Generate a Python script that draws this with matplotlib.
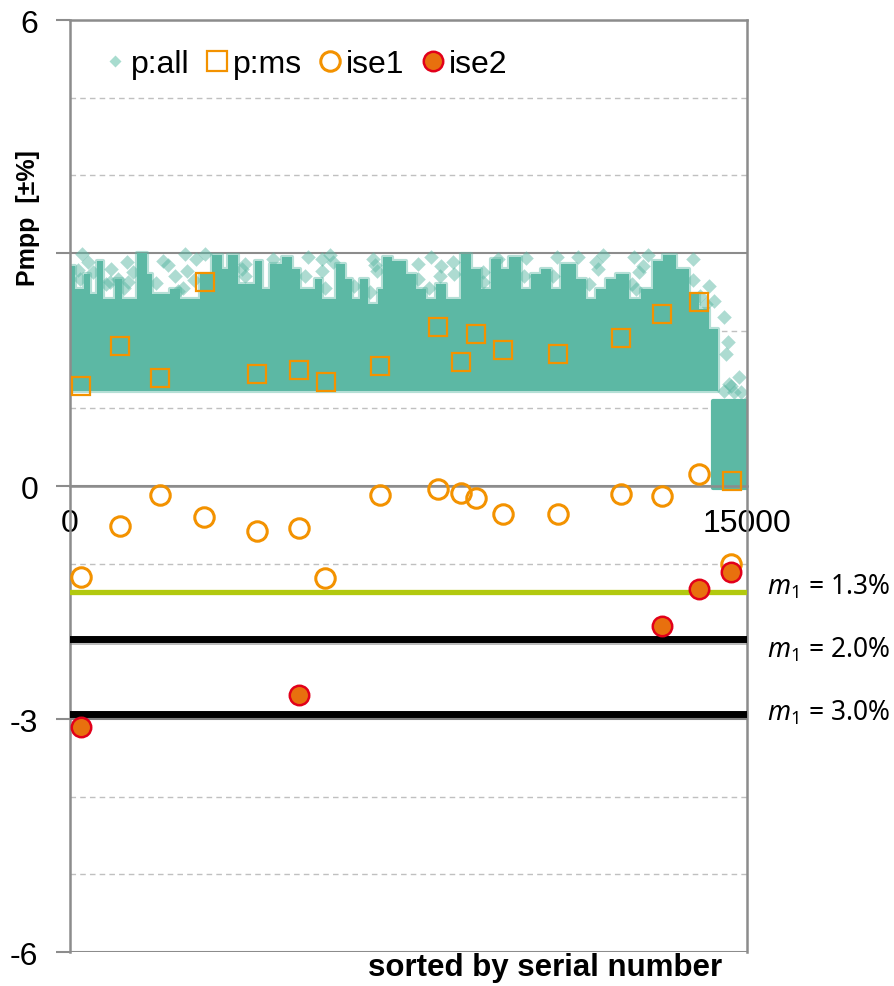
import matplotlib
matplotlib.use('Agg')
import matplotlib.pyplot as plt
import matplotlib.patheffects as pe
from matplotlib.lines import Line2D

plt.rcParams['font.family'] = ['Liberation Sans', 'DejaVu Sans']
plt.rcParams['mathtext.fontset'] = 'custom'
plt.rcParams['mathtext.rm'] = 'Noto Sans'
plt.rcParams['mathtext.it'] = 'Noto Sans:italic'

# p:all - dense core read as an envelope (start of segment, top value)
core_x = [0, 111, 311, 444, 599, 732, 999, 1154, 1487, 1709, 1820, 2219, 2441,
          2885, 3151, 3373, 3506, 3728, 4105, 4260, 4438, 4704, 4926, 5104, 5437,
          5592, 5903, 6102, 6258, 6435, 6613, 6835, 6945, 7145, 7434, 7656, 7877,
          8099, 8321, 8654, 8876, 9098, 9320, 9542, 9719, 9986, 10207, 10429,
          10651, 10873, 11206, 11428, 11650, 11872, 12094, 12382, 12648, 12915,
          13136, 13425, 13713, 13935, 14157]
core_top = [2.83, 2.54, 2.73, 2.47, 2.90, 2.41, 2.66, 2.41, 3.00, 2.73, 2.47, 2.54, 2.41,
            2.73, 2.97, 2.79, 2.97, 2.60, 2.90, 2.54, 2.86, 2.95, 2.79, 2.54, 2.66,
            2.41, 2.86, 2.66, 2.41, 2.66, 2.34, 2.54, 2.95, 2.90, 2.73, 2.54, 2.41,
            2.60, 2.41, 2.99, 2.79, 2.54, 2.92, 2.79, 2.95, 2.54, 2.73, 2.79,
            2.54, 2.86, 2.66, 2.41, 2.54, 2.66, 2.73, 2.41, 2.54, 2.90,
            2.97, 2.79, 2.47, 2.28, 2.02]
core_end = 14357
core_low = 1.22
# last batch (lower level)
tail_x = [14250, 15000]
tail_low = -0.02
tail_top = 1.10
# sparse p:all points above the dense core
sparse_x = [260, 1258, 1065, 888, 1287, 2175, 2330, 2396, 2552, 2596, 2996, 3883,
            3883, 4505, 4660, 510, 222, 5281, 5592, 5836, 5592, 6724, 6812, 7700,
            8210, 8477, 8499, 9142, 9475, 11250, 11650, 12493, 12693, 12537, 13802,
            14157, 14268, 14490, 14579, 14535, 14823, 14645, 14867, 14601, 14712,
            14490, 14990,
            180, 400, 800, 900, 1200, 1400, 1900, 2050, 2500, 2750, 2800, 3800,
            5200, 5650, 5750, 6300, 6650, 6750, 7700, 7950, 8000, 8200, 9150,
            10050, 10100, 10700, 10800, 11500, 11700, 11800, 12450, 12600, 12800,
            13800, 13950, 14100]
sparse_y = [2.99, 2.88, 2.66, 2.63, 2.63, 2.84, 2.70, 2.51, 2.99, 2.77, 2.99, 2.86,
            2.70, 2.92, 2.77, 2.76, 2.66, 2.95, 2.92, 2.88, 2.77, 2.92, 2.77, 2.86,
            2.83, 2.88, 2.73, 2.63, 2.92, 2.95, 2.88, 2.95, 2.83, 2.54, 2.92,
            2.57, 2.38, 2.18, 1.85, 1.70, 1.40, 1.29, 1.21, 1.31, 1.21,
            1.22, 1.08,
            2.78, 2.88, 2.60, 2.80, 2.55, 2.75, 2.62, 2.90, 2.55, 2.65, 2.92, 2.80,
            2.70, 2.55, 2.98, 2.58, 2.50, 2.85, 2.66, 2.55, 2.95, 2.70, 2.75,
            2.70, 2.93, 2.70, 2.95, 2.60, 2.80, 2.98, 2.60, 2.75, 2.98,
            2.65, 2.45, 2.35]

ms_x = [244, 1110, 1997, 2996, 4150, 5081, 5681, 6879, 8144, 8654, 8987, 9586,
        10807, 12205, 13114, 13936, 14668]
ms_y = [1.29, 1.80, 1.39, 2.63, 1.44, 1.49, 1.34, 1.55, 2.05, 1.60, 1.96, 1.75,
        1.70, 1.91, 2.21, 2.37, 0.06]

ise1_x = [244, 1110, 1997, 2974, 4150, 5081, 5658, 6879, 8144, 8654, 8987, 9586,
          10807, 12205, 13114, 13936, 14646]
ise1_y = [-1.17, -0.52, -0.12, -0.40, -0.58, -0.54, -1.18, -0.12, -0.04, -0.09,
          -0.15, -0.36, -0.36, -0.10, -0.13, 0.15, -1.00]

ise2_x = [244, 5081, 13114, 13936, 14646]
ise2_y = [-3.10, -2.69, -1.80, -1.33, -1.11]

limit_y = [-1.37, -1.97, -2.94]
limit_labels = ['$m_1$ = 1.3%', '$m_1$ = 2.0%', '$m_1$ = 3.0%']
limit_label_y = [-1.29, -2.10, -2.91]

teal = '#5cb8a4'
orange = '#f39200'
grey = '#8c8c8c'

fig = plt.figure(figsize=(8.94, 9.87), dpi=100)
ax = fig.add_axes([0.0783, 0.0344, 0.7573, 0.9443])

ax.fill_between(core_x + [core_end], core_low, core_top + [core_top[-1]],
                step='post', color=teal, lw=0, zorder=2)
ax.fill_between(core_x + [core_end], core_low, core_top + [core_top[-1]],
                step='post', facecolor='none', edgecolor=teal, lw=3, alpha=0.45,
                zorder=2)
ax.fill_between(tail_x, tail_low, tail_top, color=teal, lw=3, ec=teal, zorder=2)
ax.scatter(sparse_x, sparse_y, marker='D', s=55, color=teal, alpha=0.5,
           lw=0, zorder=2)

ax.axhline(limit_y[0], color='#b2c90e', lw=3.8, zorder=3)
shadow = [pe.SimpleLineShadow(offset=(0.5, -1.5), shadow_color='#777777', alpha=0.5),
          pe.Normal()]
for yv in limit_y[1:]:
    ax.axhline(yv, color='black', lw=5, zorder=3, path_effects=shadow)

ax.plot(ms_x, ms_y, 's', ms=13.5, mfc='none', mec=orange, mew=1.6, zorder=4)
ax.plot(ise1_x, ise1_y, 'o', ms=14, mfc='none', mec=orange, mew=2.2, zorder=5)
ax.plot(ise2_x, ise2_y, 'o', ms=14, mfc='#e8700e', mec='#e2001a', mew=1.8, zorder=6)

for lab, yv in zip(limit_labels, limit_label_y):
    ax.text(1.03, yv, lab, transform=ax.get_yaxis_transform(), fontsize=19,
            family='Noto Sans', va='center', ha='left')

ax.set_xlim(0, 15000)
ax.set_ylim(-6, 6)
ax.set_yticks([-6, -3, 0, 3, 6])
ax.set_yticklabels(['-6', '-3', '0', '', '6'])
ax.set_yticks([-5, -4, -2, -1, 1, 2, 4, 5], minor=True)
ax.set_xticks([0, 15000])
ax.set_xticklabels(['0', '15000'])
ax.tick_params(axis='y', which='major', direction='out', length=10, width=1.5,
               color=grey, labelsize=23, pad=13)
ax.tick_params(axis='y', which='minor', length=0)
ax.tick_params(axis='x', length=0, labelsize=23, pad=16)

ax.yaxis.grid(True, which='major', color=grey, lw=1.5, zorder=1)
ax.yaxis.grid(True, which='minor', color='#c0c0c0', lw=1, ls=(0, (4, 3)), zorder=1)
ax.set_axisbelow(True)

for s in ax.spines.values():
    s.set_color(grey)
    s.set_linewidth(1.8)
ax.spines['bottom'].set_position(('data', 0))

fig.text(28 / 894, 1 - 218 / 987, 'Pmpp  [±%]', rotation=90, ha='center',
         va='center', fontsize=18, fontweight='bold')
fig.text(722 / 894, 1 - 968 / 987, 'sorted by serial number', ha='right',
         va='center', fontsize=22.5, fontweight='bold')

handles = [
    Line2D([], [], ls='none', marker='D', ms=6, mfc='#a8dccf', mec='none'),
    Line2D([], [], ls='none', marker='s', ms=14, mfc='none', mec=orange, mew=1.6),
    Line2D([], [], ls='none', marker='o', ms=14, mfc='none', mec=orange, mew=2.2),
    Line2D([], [], ls='none', marker='o', ms=14, mfc='#e8700e', mec='#e2001a', mew=1.8),
]
ax.legend(handles, ['p:all', 'p:ms', 'ise1', 'ise2'], loc='center left',
          bbox_to_anchor=(0.0216, 0.953), ncol=4, frameon=False, fontsize=23,
          handlelength=0.9, handletextpad=0.05, columnspacing=0.42, borderpad=0)

fig.savefig('out.png', dpi=100)
